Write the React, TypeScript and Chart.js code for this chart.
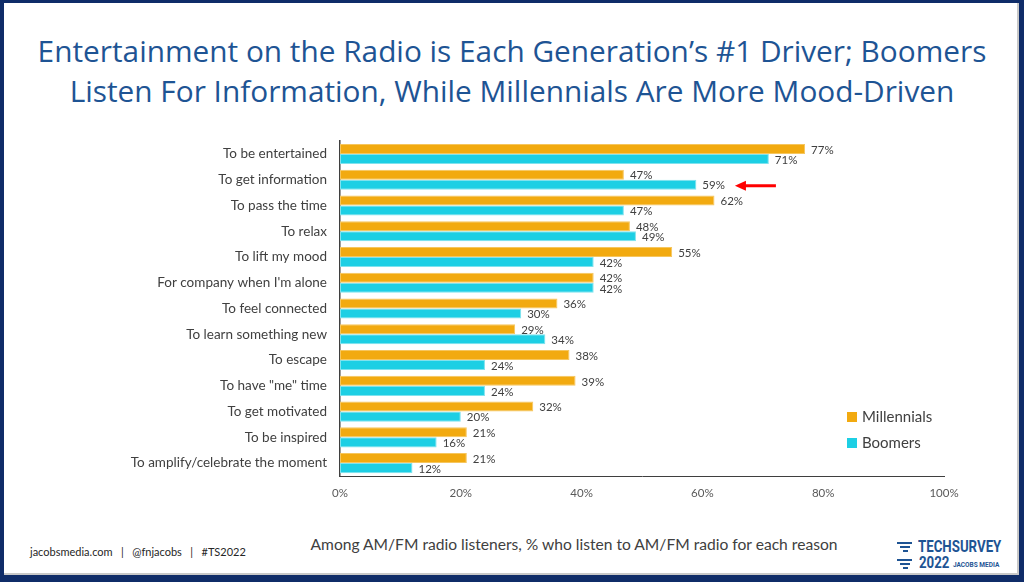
import React, { useEffect, useRef } from "react";
import { Chart, registerables } from "chart.js";

Chart.register(...registerables);

const categories: string[] = [
  "To be entertained",
  "To get information",
  "To pass the time",
  "To relax",
  "To lift my mood",
  "For company when I'm alone",
  "To feel connected",
  "To learn something new",
  "To escape",
  'To have "me" time',
  "To get motivated",
  "To be inspired",
  "To amplify/celebrate the moment",
];

const millennials: number[] = [77, 47, 62, 48, 55, 42, 36, 29, 38, 39, 32, 21, 21];
const boomers: number[] = [71, 59, 47, 49, 42, 42, 30, 34, 24, 24, 20, 16, 12];

const seriesNames: string[] = ["Millennials", "Boomers"];
const seriesColors: string[] = ["#F2AA10", "#1DCFE4"];
const seriesBorders: string[] = ["#F6C65E", "#7FE2EE"];
const xTicks: number[] = [0, 20, 40, 60, 80, 100];

// arrow highlights Boomers' "To get information" value
const arrowCategoryIndex = 1;
const arrowDatasetIndex = 1;

const FONT = "Lato, 'Open Sans', sans-serif";

const valueLabelPlugin = {
  id: "valueLabels",
  afterDatasetsDraw(chart: any) {
    const ctx = chart.ctx;
    ctx.save();
    ctx.font = `11.5px ${FONT}`;
    ctx.fillStyle = "#404040";
    ctx.textAlign = "left";
    ctx.textBaseline = "middle";
    chart.data.datasets.forEach((ds: any, i: number) => {
      const meta = chart.getDatasetMeta(i);
      meta.data.forEach((bar: any, j: number) => {
        const txt = ds.data[j] + "%";
        ctx.fillText(txt, bar.x + 6, bar.y + 1);
        if (i === arrowDatasetIndex && j === arrowCategoryIndex) {
          const w = ctx.measureText(txt).width;
          const tip = bar.x + 6 + w + 10;
          const tail = tip + 41;
          const y = bar.y + 1;
          ctx.save();
          ctx.strokeStyle = "#FF0000";
          ctx.fillStyle = "#FF0000";
          ctx.lineWidth = 3;
          ctx.beginPath();
          ctx.moveTo(tail, y);
          ctx.lineTo(tip + 8, y);
          ctx.stroke();
          ctx.beginPath();
          ctx.moveTo(tip, y);
          ctx.lineTo(tip + 11, y - 5);
          ctx.lineTo(tip + 11, y + 5);
          ctx.closePath();
          ctx.fill();
          ctx.restore();
        }
      });
    });
    ctx.restore();
  },
};

const legendPlugin = {
  id: "cornerLegend",
  afterDraw(chart: any) {
    const ctx = chart.ctx;
    const area = chart.chartArea;
    ctx.save();
    ctx.font = `15px ${FONT}`;
    ctx.textBaseline = "middle";
    ctx.textAlign = "left";
    chart.data.datasets.forEach((ds: any, i: number) => {
      const x = area.right - 97;
      const y = area.bottom - 59 + i * 26;
      ctx.fillStyle = ds.backgroundColor;
      ctx.fillRect(x, y - 5, 10, 10);
      ctx.fillStyle = "#404040";
      ctx.fillText(ds.label, x + 15, y);
    });
    ctx.restore();
  },
};

function BarChart() {
  const ref = useRef<HTMLCanvasElement | null>(null);
  useEffect(() => {
    if (!ref.current) return;
    const chart = new Chart(ref.current, {
      type: "bar",
      data: {
        labels: categories,
        datasets: [
          {
            label: seriesNames[0],
            data: millennials,
            backgroundColor: seriesColors[0],
            borderColor: seriesBorders[0],
            borderWidth: 1,
            borderSkipped: false,
          },
          {
            label: seriesNames[1],
            data: boomers,
            backgroundColor: seriesColors[1],
            borderColor: seriesBorders[1],
            borderWidth: 1,
            borderSkipped: false,
          },
        ],
      },
      options: {
        indexAxis: "y",
        responsive: false,
        animation: false,
        events: [],
        layout: { padding: { left: 0, right: 80, top: 0, bottom: 0 } },
        plugins: {
          legend: { display: false },
          tooltip: { enabled: false },
          title: { display: false },
        },
        datasets: {
          bar: { categoryPercentage: 0.78, barPercentage: 1 },
        },
        scales: {
          x: {
            min: 0,
            max: 100,
            afterBuildTicks(scale: any) {
              scale.ticks = xTicks.map((v) => ({ value: v }));
            },
            afterFit(scale: any) {
              scale.height = 29;
            },
            grid: { display: false, drawTicks: false },
            border: { display: true, color: "#3F3F3F", width: 1 },
            ticks: {
              padding: 10,
              color: "#595959",
              font: { family: FONT, size: 11.5 },
              callback: (v: any) => v + "%",
            },
          },
          y: {
            afterFit(scale: any) {
              scale.width = 340;
            },
            grid: { display: false, drawTicks: false },
            border: { display: true, color: "#3F3F3F", width: 1.5 },
            ticks: {
              padding: 13,
              color: "#404040",
              font: { family: FONT, size: 13.5 },
            },
          },
        },
      },
      plugins: [valueLabelPlugin, legendPlugin],
    } as any);
    return () => chart.destroy();
  }, []);
  return <canvas ref={ref} width={1024} height={385} style={{ position: "absolute", left: 0, top: 120 }} />;
}

export default function App() {
  return (
    <div
      style={{
        position: "fixed",
        left: 0,
        top: 0,
        width: 1024,
        height: 582,
        background: "#fff",
        overflow: "hidden",
        fontFamily: FONT,
      }}
    >
      <BarChart />
      <div
        style={{
          position: "absolute",
          left: 0,
          top: 31,
          width: 1024,
          textAlign: "center",
          fontFamily: "'Open Sans', sans-serif",
          fontSize: 29.8,
          lineHeight: "40px",
          color: "#1E5494",
          whiteSpace: "nowrap",
        }}
      >
        Entertainment on the Radio is Each Generation’s #1 Driver; Boomers
        <br />
        Listen For Information, While Millennials Are More Mood-Driven
      </div>
      <div
        style={{
          position: "absolute",
          left: 30,
          top: 545,
          fontSize: 11,
          color: "#262626",
          whiteSpace: "pre",
        }}
      >
        {"jacobsmedia.com   |   @fnjacobs   |   #TS2022"}
      </div>
      <div
        style={{
          position: "absolute",
          left: 274,
          width: 600,
          top: 535,
          fontSize: 15.6,
          textAlign: "center",
          color: "#404040",
          whiteSpace: "nowrap",
        }}
      >
        Among AM/FM radio listeners, % who listen to AM/FM radio for each reason
      </div>
      <div style={{ position: "absolute", left: 897, top: 540, width: 125, height: 36, color: "#1E5494" }}>
        <div style={{ position: "absolute", left: 0, top: 2, width: 15, height: 2, background: "#1E5494" }} />
        <div style={{ position: "absolute", left: 3, top: 6, width: 10, height: 2, background: "#1E5494" }} />
        <div style={{ position: "absolute", left: 6, top: 10, width: 5, height: 2, background: "#1E5494" }} />
        <div style={{ position: "absolute", left: 0, top: 19, width: 15, height: 2, background: "#1E5494" }} />
        <div style={{ position: "absolute", left: 3, top: 23, width: 10, height: 2, background: "#1E5494" }} />
        <div style={{ position: "absolute", left: 6, top: 27, width: 5, height: 2, background: "#1E5494" }} />
        <div
          style={{
            position: "absolute",
            left: 21,
            top: -4,
            fontFamily: "Roboto, sans-serif",
            fontWeight: 700,
            fontSize: 17,
            transform: "scaleX(0.78)",
            transformOrigin: "left top",
            whiteSpace: "nowrap",
          }}
        >
          TECHSURVEY
        </div>
        <div
          style={{
            position: "absolute",
            left: 22,
            top: 12,
            fontFamily: "Roboto, sans-serif",
            fontWeight: 700,
            fontSize: 17,
            transform: "scaleX(0.78)",
            transformOrigin: "left top",
            whiteSpace: "nowrap",
          }}
        >
          2022
        </div>
        <div
          style={{
            position: "absolute",
            left: 56,
            top: 21,
            fontFamily: "Roboto, sans-serif",
            fontWeight: 700,
            fontSize: 6.5,
            whiteSpace: "nowrap",
          }}
        >
          JACOBS MEDIA
        </div>
      </div>
      <div
        style={{
          position: "absolute",
          left: 0,
          top: 0,
          width: 1024,
          height: 582,
          boxSizing: "border-box",
          borderStyle: "solid",
          borderColor: "#0F2C68",
          borderWidth: "3px 5px 7px 4px",
          boxShadow: "inset -2px -2px 0 #C8C8C8",
          pointerEvents: "none",
        }}
      />
    </div>
  );
}
